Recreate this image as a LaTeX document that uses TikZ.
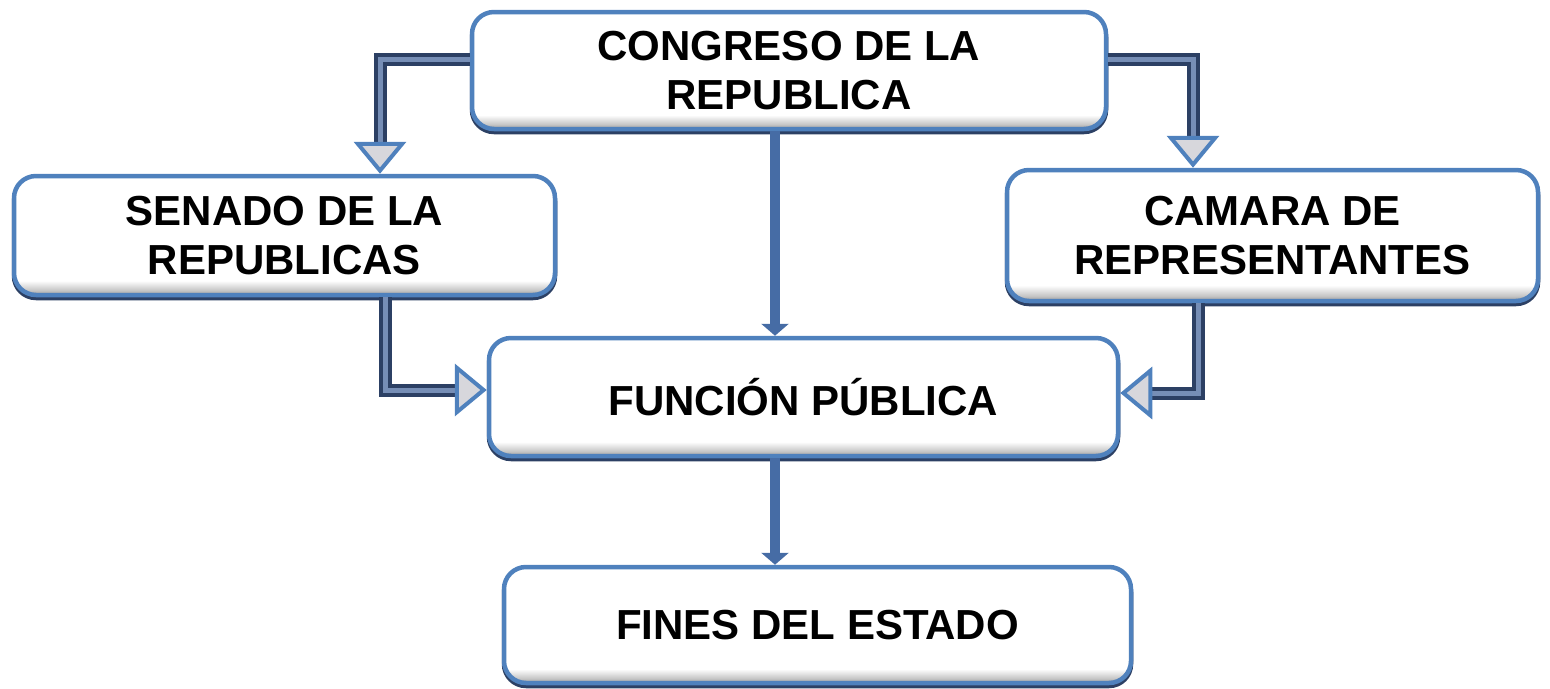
\documentclass[tikz,border=0pt]{standalone}
\usepackage{fontspec}
\setmainfont{Liberation Sans}
\usetikzlibrary{arrows.meta}
\definecolor{bordblue}{RGB}{79,129,189}
\definecolor{navyb}{RGB}{44,64,100}
\definecolor{shaftblue}{RGB}{70,108,165}
\definecolor{innerb}{RGB}{118,142,182}
\definecolor{headfill}{RGB}{215,215,220}
\pgfdeclareverticalshading{bevel}{100bp}{color(0bp)=(gray!80); color(25bp)=(gray!80); color(27bp)=(gray!45); color(31bp)=(white); color(100bp)=(white)}
\tikzset{
  box/.style={rectangle, rounded corners=22pt, draw=bordblue, line width=4.5pt,
    shade, shading=bevel, align=center, font=\fontsize{42}{49}\selectfont\bfseries,
    inner sep=0pt,
    preaction={draw=navyb, line width=4.5pt, transform canvas={yshift=-3pt}}},
  elbow/.style={draw=navyb, line width=4pt, double=innerb, double distance=5pt,
    -{Triangle[width=52pt,length=32pt,fill=headfill,color=bordblue,line width=4pt]}},
  straight/.style={draw=shaftblue, line width=10pt,
    -{Triangle[width=27pt,length=12pt,color=shaftblue]}}
}
\begin{document}
\begin{tikzpicture}[x=1pt,y=-1pt]
\useasboundingbox (0,0) rectangle (1550,688);
\node[box, minimum width=634pt, minimum height=117pt] (cong) at (789,70.5) {CONGRESO DE LA\\REPUBLICA};
\node[box, minimum width=541pt, minimum height=119pt] (sen) at (284.5,235.5) {SENADO DE LA\\REPUBLICAS};
\node[box, minimum width=531pt, minimum height=131pt] (cam) at (1272.5,235.5) {CAMARA DE\\REPRESENTANTES};
\node[box, minimum width=629pt, minimum height=118pt] (fun) at (803.5,397) {FUNCIÓN PÚBLICA};
\node[box, minimum width=627pt, minimum height=116pt] (fin) at (817.5,625) {FINES DEL ESTADO};
\draw[elbow] ([yshift=11pt]cong.west) -| ([xshift=95.5pt]sen.north);
\draw[elbow] ([yshift=11pt]cong.east) -| ([xshift=-79.5pt]cam.north);
\draw[elbow] ([xshift=100.5pt]sen.south) |- ([yshift=7pt]fun.west);
\draw[elbow] ([xshift=-74.5pt]cam.south) |- ([yshift=4pt]fun.east);
\draw[straight] ([xshift=-14pt]cong.south) -- ([xshift=-14pt]cong.south |- fun.north);
\draw[straight] ([xshift=-28.5pt]fun.south) -- ([xshift=-28.5pt]fun.south |- fin.north);
\end{tikzpicture}
\end{document}
